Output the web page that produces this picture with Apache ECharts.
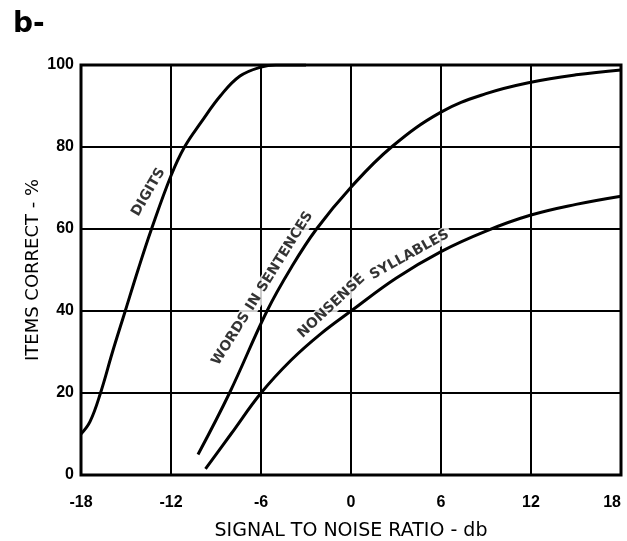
<!DOCTYPE html>
<html>
<head>
<meta charset="utf-8">
<script src="https://cdn.jsdelivr.net/npm/echarts@6/dist/echarts.min.js"></script>
<style>
  html, body { margin: 0; padding: 0; background: #fff; }
  #chart { width: 627px; height: 541px; }
</style>
</head>
<body>
<div id="chart"></div>
<script>
// Signal-to-noise ratio (dB) against percentage of items correctly heard
const xTicks = [-18, -12, -6, 0, 6, 12, 18];
const yTicks = [0, 20, 40, 60, 80, 100];

const digitsSnr = [-18, -17.4, -16.7, -15.9, -15.05, -14.2, -13.3, -12, -11.1, -10, -8.7, -7.4, -6, -5, -3];
const digitsPct = [10, 13, 20, 30, 40, 50, 60, 73, 80, 86, 92.5, 97.3, 99.5, 100, 100];

const wordsSnr = [-10.2, -8.1, -5.6, -4, -2.3, 0, 2.7, 6, 9, 12, 15, 18];
const wordsPct = [5, 20, 40, 50.5, 60, 70.2, 80, 88.5, 93, 95.8, 97.6, 98.8];

const syllablesSnr = [-9.7, -8, -6, -4, -2, 0, 3, 6, 9, 12, 15, 18];
const syllablesPct = [1.5, 10, 20, 28, 34.5, 40, 48, 54.5, 59.5, 63.4, 66, 68];

const pairs = (xs, ys) => xs.map((x, i) => [x, ys[i]]);

const FONT = '"DejaVu Sans", sans-serif';
const TICK_FONT = '"Liberation Sans", sans-serif';

function curve(name, xs, ys) {
  return {
    name: name,
    type: 'line',
    data: pairs(xs, ys),
    smooth: 0.4,
    showSymbol: false,
    symbol: 'none',
    lineStyle: { color: '#000', width: 3 },
    z: 5,
    silent: true
  };
}

// Captions written along each curve, anchored in data units
function caption(text, x, y, angle) {
  return {
    type: 'scatter',
    symbolSize: 0,
    silent: true,
    z: 4,
    data: [[x, y]],
    label: {
      show: true,
      position: 'inside',
      formatter: text,
      rotate: angle,
      color: '#000',
      fontFamily: FONT,
      fontWeight: 'bold',
      fontSize: 14,
      backgroundColor: '#fff',
      padding: [1, 3]
    }
  };
}

const chart = echarts.init(document.getElementById('chart'), null, { renderer: 'canvas' });
chart.setOption({
  backgroundColor: '#fff',
  animation: false,
  title: {
    text: 'b-',
    left: 8,
    top: 6,
    textStyle: { fontFamily: FONT, fontWeight: 'bold', fontSize: 28, color: '#000' }
  },
  grid: {
    left: 81, right: 6, top: 65, bottom: 66,
    outerBoundsMode: 'none',
    containLabel: false,
    show: true, borderColor: '#000', borderWidth: 3, backgroundColor: 'transparent'
  },
  xAxis: {
    type: 'value',
    min: xTicks[0], max: xTicks[xTicks.length - 1], interval: 6,
    name: 'SIGNAL TO NOISE RATIO - db',
    nameLocation: 'middle',
    nameGap: 47,
    nameMoveOverlap: false,
    nameTextStyle: { fontFamily: FONT, fontSize: 19, color: '#000' },
    axisLine: { show: false },
    axisTick: { show: false },
    axisLabel: {
      margin: 20, fontFamily: TICK_FONT, fontSize: 16, fontWeight: 'bold', color: '#000',
      alignMaxLabel: 'right'
    },
    splitLine: { show: true, lineStyle: { color: '#000', width: 2 } }
  },
  yAxis: {
    type: 'value',
    min: yTicks[0], max: yTicks[yTicks.length - 1], interval: 20,
    name: 'ITEMS CORRECT - %',
    nameLocation: 'middle',
    nameGap: 39,
    nameMoveOverlap: false,
    nameTextStyle: { fontFamily: FONT, fontSize: 18, color: '#000' },
    axisLine: { show: false },
    axisTick: { show: false },
    axisLabel: { margin: 7, fontFamily: TICK_FONT, fontSize: 16, fontWeight: 'bold', color: '#000' },
    splitLine: { show: true, lineStyle: { color: '#000', width: 2 } }
  },
  series: [
    curve('DIGITS', digitsSnr, digitsPct),
    curve('WORDS IN SENTENCES', wordsSnr, wordsPct),
    curve('NONSENSE SYLLABLES', syllablesSnr, syllablesPct),
    caption('DIGITS', -13.5, 69, 60),
    caption('WORDS IN SENTENCES', -5.9, 45.5, 58),
    caption('NONSENSE', -1.3, 41.2, 43),
    caption('SYLLABLES', 3.9, 53.7, 29)
  ]
});
</script>
</body>
</html>
